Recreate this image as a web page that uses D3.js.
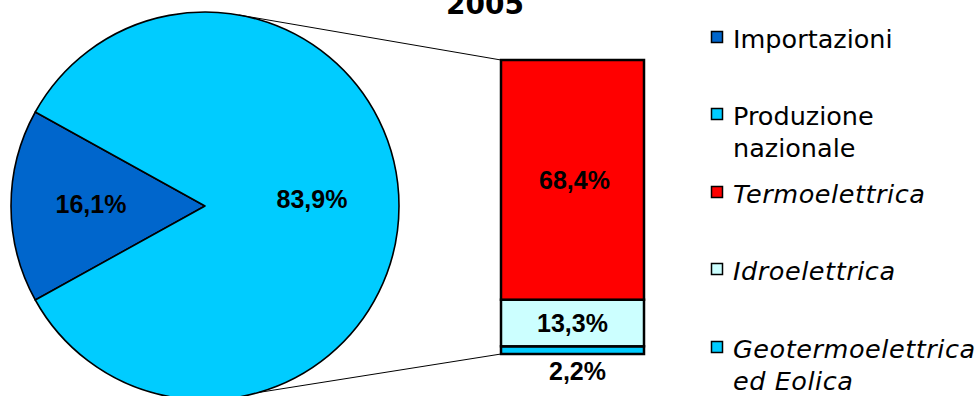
<!DOCTYPE html>
<html>
<head>
<meta charset="utf-8">
<script src="https://cdn.jsdelivr.net/npm/d3@7"></script>
<style>
  html, body { margin: 0; padding: 0; background: #fff; }
  svg { display: block; }
</style>
</head>
<body>
<svg id="chart" width="978" height="396"></svg>
<script>
// Energy supply 2005: imports vs national production, with production broken down
const title = "2005";

const pieLabels = ["Importazioni", "Produzione nazionale"];
const pieValues = [16.1, 83.9];
const pieColors = ["#0066CC", "#00CCFF"];

const barLabels = ["Geotermoelettrica ed Eolica", "Idroelettrica", "Termoelettrica"];
const barValues = [2.2, 13.3, 68.4];
const barColors = ["#00CCFF", "#CCFFFF", "#FF0000"];

const legendLabels = [["Importazioni"], ["Produzione", "nazionale"], ["Termoelettrica"], ["Idroelettrica"], ["Geotermoelettrica", "ed Eolica"]];
const legendColors = ["#0066CC", "#00CCFF", "#FF0000", "#CCFFFF", "#00CCFF"];
const legendItalic = [false, false, true, true, true];

const fmt = v => d3.format(".1f")(v).replace(".", ",") + "%";

const svg = d3.select("#chart");

// ---- Title
svg.append("text")
  .attr("x", 485).attr("y", 14)
  .attr("text-anchor", "middle")
  .attr("font-family", "DejaVu Sans, Verdana, sans-serif")
  .attr("font-weight", "bold")
  .attr("font-size", 28)
  .text(title);

// ---- Pie
const cx = 205, cy = 206, r = 194;
const half = Math.PI * pieValues[0] / 100;
const pie = d3.pie().sort(null)
  .startAngle(1.5 * Math.PI - half)
  .endAngle(3.5 * Math.PI - half);
const arcs = pie(pieValues);
const arc = d3.arc().innerRadius(0).outerRadius(r);

const pg = svg.append("g").attr("transform", `translate(${cx},${cy})`);

// ---- Connector lines from the production slice to the bar
const total = d3.sum(barValues);
const bar = { x0: 501, x1: 644 };
const y = d3.scaleLinear().domain([0, total]).range([354, 60]);

const topAng = 10 * Math.PI / 180;
const botAng = 164 * Math.PI / 180;
svg.append("line")
  .attr("x1", cx + r * Math.sin(topAng)).attr("y1", cy - r * Math.cos(topAng))
  .attr("x2", bar.x0).attr("y2", y(total))
  .attr("stroke", "#000").attr("stroke-width", 1);
svg.append("line")
  .attr("x1", cx + r * Math.sin(botAng)).attr("y1", cy - r * Math.cos(botAng))
  .attr("x2", bar.x0).attr("y2", y(0))
  .attr("stroke", "#000").attr("stroke-width", 1);

pg.selectAll("path.slice")
  .data(arcs)
  .join("path")
  .attr("class", "slice")
  .attr("d", arc)
  .attr("fill", (d, i) => pieColors[i])
  .attr("stroke", "#000")
  .attr("stroke-width", 1.6)
  .attr("stroke-linejoin", "round");

const pieLabelPos = [[91 - cx, 213 - cy], [312 - cx, 208 - cy]];
pg.selectAll("text.pl")
  .data(arcs)
  .join("text")
  .attr("class", "pl")
  .attr("x", (d, i) => pieLabelPos[i][0])
  .attr("y", (d, i) => pieLabelPos[i][1])
  .attr("text-anchor", "middle")
  .attr("font-family", "Liberation Sans, Arial, sans-serif")
  .attr("font-weight", "bold")
  .attr("font-size", 25)
  .text(d => fmt(d.data));

// ---- Stacked bar
const stackData = [];
let acc = 0;
barValues.forEach((v, i) => { stackData.push({ v, y0: acc, y1: acc + v, c: barColors[i] }); acc += v; });

const bg = svg.append("g");
bg.selectAll("rect")
  .data(stackData)
  .join("rect")
  .attr("x", bar.x0)
  .attr("width", bar.x1 - bar.x0)
  .attr("y", d => y(d.y1))
  .attr("height", d => y(d.y0) - y(d.y1))
  .attr("fill", d => d.c)
  .attr("stroke", "#000")
  .attr("stroke-width", 2.5);

const barText = (txt, xx, yy) => svg.append("text")
  .attr("x", xx).attr("y", yy)
  .attr("text-anchor", "middle")
  .attr("font-family", "Liberation Sans, Arial, sans-serif")
  .attr("font-weight", "bold")
  .attr("font-size", 25)
  .text(txt);

const mid = (bar.x0 + bar.x1) / 2;
barText(fmt(stackData[2].v), mid + 2, (y(stackData[2].y0) + y(stackData[2].y1)) / 2 + 9);
barText(fmt(stackData[1].v), mid, (y(stackData[1].y0) + y(stackData[1].y1)) / 2 + 9);
barText(fmt(stackData[0].v), mid + 5, y(0) + 26);

// ---- Legend
const legendBase = [48, 125, 203, 280, 358];
const lg = svg.append("g");
legendLabels.forEach((lines, i) => {
  lg.append("rect")
    .attr("x", 711.5).attr("y", legendBase[i] - 16.5)
    .attr("width", 11).attr("height", 11)
    .attr("fill", legendColors[i])
    .attr("stroke", "#000").attr("stroke-width", 1.5);
  const t = lg.append("text")
    .attr("x", 733).attr("y", legendBase[i])
    .attr("font-family", "DejaVu Sans, Verdana, sans-serif")
    .attr("font-size", 25.5)
    .attr("letter-spacing", legendItalic[i] ? 0.55 : 0)
    .attr("font-style", legendItalic[i] ? "italic" : "normal");
  lines.forEach((ln, j) => {
    t.append("tspan").attr("x", 733).attr("dy", j === 0 ? 0 : 32).text(ln);
  });
});
</script>
</body>
</html>
